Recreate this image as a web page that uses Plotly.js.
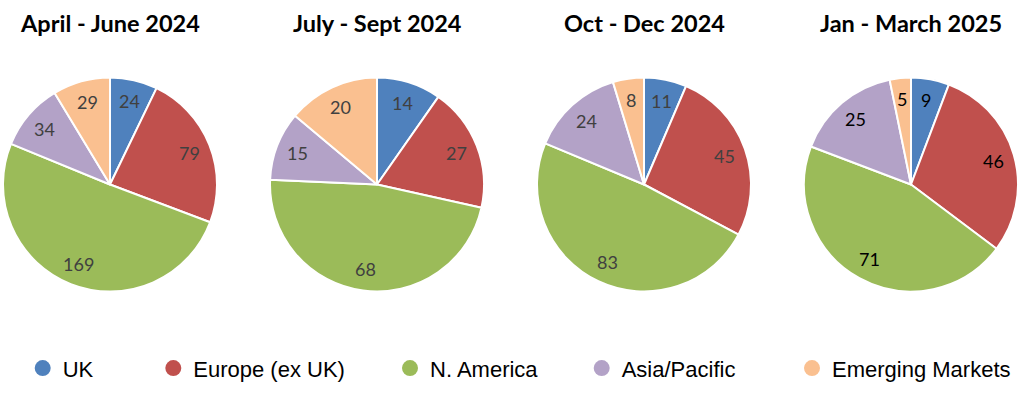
<!DOCTYPE html>
<html>
<head>
<meta charset="utf-8">
<script src="https://cdn.plot.ly/plotly-3.0.1.min.js"></script>
<style>html,body{margin:0;padding:0;background:#fff;}#chart{width:1024px;height:396px;}</style>
</head>
<body>
<div id="chart"></div>
<script>
// ---- data ----
const categories = ["UK", "Europe (ex UK)", "N. America", "Asia/Pacific", "Emerging Markets"];
const periods = ["April - June 2024", "July - Sept 2024", "Oct - Dec 2024", "Jan - March 2025"];
const aprJun2024 = [24, 79, 169, 34, 29];
const julSep2024 = [14, 27, 68, 15, 20];
const octDec2024 = [11, 45, 83, 24, 8];
const janMar2025 = [9, 46, 71, 25, 5];
const colors = ["#4F81BD", "#C0504D", "#9BBB59", "#B3A2C7", "#FAC090"];
const labelColors = ["#404040", "#404040", "#404040", "#000000"];

// ---- layout geometry (pixels) ----
const W = 1024, H = 396;
const centersX = [110, 377, 644, 911];
const centerY = 184.5;
const R = 107;
const labelR = 0.8 * R;
const legendX = [42.7, 173.3, 410, 601.7, 812];
const legendY = 368.3;

const seriesByPeriod = [aprJun2024, julSep2024, octDec2024, janMar2025];
const traces = [];
const annotations = [];

seriesByPeriod.forEach((vals, p) => {
  const cx = centersX[p];
  traces.push({
    type: "pie",
    values: vals,
    labels: categories,
    sort: false,
    direction: "clockwise",
    rotation: 0,
    textinfo: "none",
    hoverinfo: "label+value",
    showlegend: false,
    marker: {colors: colors, line: {color: "#ffffff", width: 2}},
    domain: {x: [(cx - R) / W, (cx + R) / W], y: [1 - (centerY + R) / H, 1 - (centerY - R) / H]}
  });
  const total = vals.reduce((a, b) => a + b, 0);
  let cum = 0;
  vals.forEach((v) => {
    const a = (cum + v / 2) / total * 2 * Math.PI;
    cum += v;
    const px = cx + labelR * Math.sin(a);
    const py = centerY - labelR * Math.cos(a);
    annotations.push({
      text: String(v), x: px / W, y: 1 - py / H, xref: "paper", yref: "paper",
      xanchor: "center", yanchor: "middle", showarrow: false,
      font: {family: "Lato, 'Open Sans', sans-serif", size: 18, color: labelColors[p]}
    });
  });
  annotations.push({
    text: "<b>" + periods[p] + "</b>", x: cx / W, y: 1 - 23.4 / H, xref: "paper", yref: "paper",
    xanchor: "center", yanchor: "middle", showarrow: false,
    font: {family: "Lato, 'Open Sans', sans-serif", size: 23.5, color: "#000000"}
  });
});

const layout = {
  width: W, height: H,
  margin: {l: 0, r: 0, t: 0, b: 0},
  paper_bgcolor: "#ffffff", plot_bgcolor: "#ffffff",
  xaxis: {visible: false}, yaxis: {visible: false},
  annotations: annotations,
  showlegend: true
};

categories.forEach((c, i) => {
  const key = i === 0 ? "legend" : "legend" + (i + 1);
  traces.push({
    type: "scatter", mode: "markers", x: [null], y: [null], name: c,
    marker: {color: colors[i], size: 16, symbol: "circle"},
    legend: key, hoverinfo: "skip"
  });
  layout[key] = {
    x: (legendX[i] - 20) / W, xanchor: "left",
    y: 1 - legendY / H, yanchor: "middle",
    bgcolor: "rgba(0,0,0,0)",
    font: {family: "'Liberation Sans', Arial, sans-serif", size: 22, color: "#000000"},
    itemsizing: "trace"
  };
});

Plotly.newPlot("chart", traces, layout, {staticPlot: true});
</script>
</body>
</html>
